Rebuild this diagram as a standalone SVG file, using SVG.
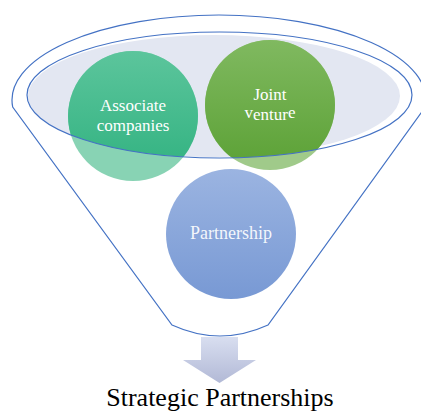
<svg xmlns="http://www.w3.org/2000/svg" width="421" height="411" viewBox="0 0 421 411">
<defs>
<style>
.lbl{font-family:"Liberation Serif","Times New Roman",serif;fill:#ffffff;text-anchor:middle;}
.rim{fill:none;stroke:#4472c4;stroke-width:1.2;}
</style>
<linearGradient id="gA" x1="0" y1="0" x2="0" y2="1">
<stop offset="0" stop-color="#5cc59c"/><stop offset="1" stop-color="#2fb17f"/>
</linearGradient>
<linearGradient id="gJ" x1="0" y1="0" x2="0" y2="1">
<stop offset="0" stop-color="#80b960"/><stop offset="1" stop-color="#5ba135"/>
</linearGradient>
<linearGradient id="gP" x1="0" y1="0" x2="0" y2="1">
<stop offset="0" stop-color="#9bb4e1"/><stop offset="1" stop-color="#7899d4"/>
</linearGradient>
<linearGradient id="gArr" x1="0" y1="0" x2="0" y2="1">
<stop offset="0" stop-color="#d8def0"/><stop offset="1" stop-color="#b2b9d6"/>
</linearGradient>
<clipPath id="mouth"><ellipse cx="219.5" cy="95" rx="192.5" ry="63"/></clipPath>
</defs>
<rect width="421" height="411" fill="#ffffff"/>
<g id="funnel">
<path class="rim" d="M12.7,107 A207,85 0 1 1 425.3,107 L268,325 Q220,347 172,325 Z"/>
<ellipse cx="214" cy="96" rx="186" ry="61" fill="#e3e7f2"/>
</g>
<g id="associate">
<circle cx="133" cy="116" r="65" fill="#88d3b4"/>
<circle cx="133" cy="116" r="65" fill="url(#gA)" clip-path="url(#mouth)"/>
<text class="lbl" x="133" y="110.5" font-size="17">Associate</text>
<text class="lbl" x="133" y="130.5" font-size="17">companies</text>
</g>
<g id="joint">
<circle cx="270" cy="105" r="65" fill="#a0ca8a"/>
<circle cx="270" cy="105" r="65" fill="url(#gJ)" clip-path="url(#mouth)"/>
<text class="lbl" x="270" y="99.5" font-size="17">Joint</text>
<text class="lbl" x="270" y="120" font-size="17"><tspan dy="-2">v</tspan><tspan dy="2">entur</tspan><tspan dy="-2">e</tspan></text>
</g>
<g id="mouthrim">
<ellipse class="rim" cx="219.5" cy="95" rx="192.5" ry="63"/>
</g>
<g id="partnership">
<circle cx="231" cy="234" r="65" fill="url(#gP)"/>
<text class="lbl" x="231" y="239" font-size="18" fill-opacity="0.92">Partnership</text>
</g>
<g id="connectors">
<polygon points="201,337 238,337 238,360 256,360 219.5,383 183,360 201,360" fill="url(#gArr)"/>
</g>
<g id="result">
<text x="220" y="406" font-family="Liberation Serif, Times New Roman, serif" font-size="26" text-anchor="middle" fill="#000000">Strategic Partnerships</text>
</g>
</svg>
